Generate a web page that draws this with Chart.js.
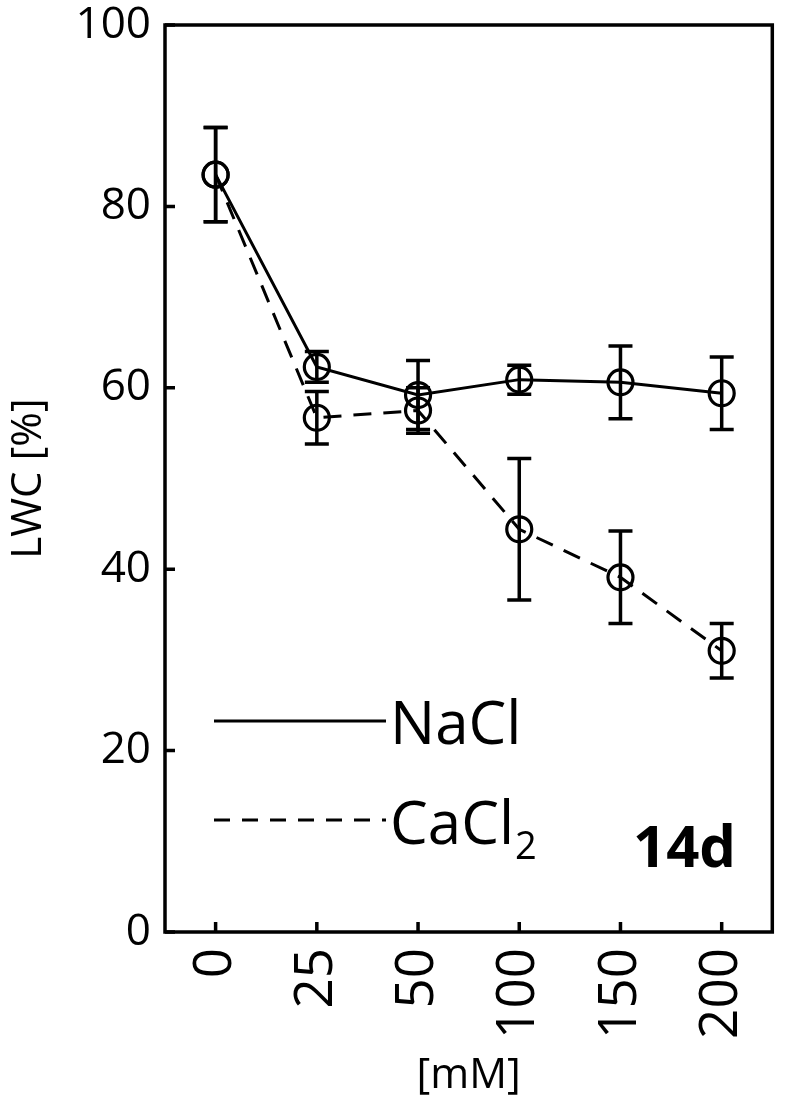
<!DOCTYPE html>
<html>
<head>
<meta charset="utf-8">
<script src="https://cdn.jsdelivr.net/npm/chart.js@4"></script>
<style>
  html, body { margin: 0; padding: 0; background: #fff; }
  #wrap { width: 788px; height: 1105px; position: relative; }
</style>
</head>
<body>
<div id="wrap"><canvas id="lwcChart"></canvas></div>
<script>
const conc = ["0", "25", "50", "100", "150", "200"];
const naclMean = [83.5, 62.3, 59.2, 60.9, 60.6, 59.4];
const naclErr = [5.2, 1.7, 3.8, 1.6, 4.0, 4.0];
const cacl2Mean = [83.5, 56.7, 57.5, 44.4, 39.1, 31.0];
const cacl2Err = [5.2, 2.9, 2.5, 7.8, 5.1, 3.0];
const yTicks = [0, 20, 40, 60, 80, 100];

const ink = "#000";
const font = "'Open Sans', 'Noto Sans', sans-serif";

// error bars, drawn from the data through the scales
const errorBars = {
  id: "errorBars",
  afterDatasetsDraw(chart) {
    const { ctx, scales: { x, y } } = chart;
    const sets = [[naclMean, naclErr], [cacl2Mean, cacl2Err]];
    ctx.save();
    ctx.strokeStyle = ink;
    ctx.lineWidth = 3.5;
    sets.forEach(([mean, err]) => {
      mean.forEach((m, i) => {
        const px = x.getPixelForValue(i);
        const top = y.getPixelForValue(m + err[i]);
        const bot = y.getPixelForValue(m - err[i]);
        ctx.beginPath();
        ctx.moveTo(px, top); ctx.lineTo(px, bot);
        ctx.moveTo(px - 12, top); ctx.lineTo(px + 12, top);
        ctx.moveTo(px - 12, bot); ctx.lineTo(px + 12, bot);
        ctx.stroke();
      });
    });
    ctx.restore();
  },
};

// box frame + inward tick marks
const frame = {
  id: "frame",
  afterDraw(chart) {
    const { ctx, chartArea: a, scales: { x, y } } = chart;
    ctx.save();
    ctx.strokeStyle = ink;
    ctx.lineWidth = 3.5;
    ctx.strokeRect(a.left, a.top, a.right - a.left, a.bottom - a.top);
    ctx.beginPath();
    yTicks.forEach(v => {
      const py = y.getPixelForValue(v);
      ctx.moveTo(a.left, py); ctx.lineTo(a.left + 10, py);
    });
    conc.forEach((c, i) => {
      const px = x.getPixelForValue(i);
      ctx.moveTo(px, a.bottom); ctx.lineTo(px, a.bottom - 10);
    });
    ctx.stroke();
    ctx.restore();
  },
};

// legend text and panel label
const notes = {
  id: "notes",
  afterDraw(chart) {
    const { ctx } = chart;
    ctx.save();
    ctx.strokeStyle = ink;
    ctx.fillStyle = ink;
    ctx.lineWidth = 3;
    ctx.beginPath();
    ctx.moveTo(214, 721); ctx.lineTo(386, 721);
    ctx.stroke();
    ctx.setLineDash([16, 12]);
    ctx.beginPath();
    ctx.moveTo(214, 820); ctx.lineTo(386, 820);
    ctx.stroke();
    ctx.setLineDash([]);
    ctx.textBaseline = "alphabetic";
    ctx.textAlign = "left";
    ctx.font = "60px " + font;
    ctx.fillText("NaCl", 390, 744);
    ctx.fillText("CaCl", 390, 844);
    const w = ctx.measureText("CaCl").width;
    ctx.font = "38px " + font;
    ctx.fillText("2", 390 + w + 1, 859);
    ctx.font = "bold 58px " + font;
    ctx.textAlign = "right";
    ctx.fillText("14d", 736, 867);
    ctx.restore();
  },
};

new Chart(document.getElementById("lwcChart"), {
  type: "line",
  data: {
    labels: conc,
    datasets: [
      {
        label: "NaCl",
        data: naclMean,
        borderColor: ink,
        borderWidth: 3,
        pointRadius: 12.5,
        pointBorderWidth: 3.2,
        pointBorderColor: ink,
        pointBackgroundColor: "rgba(0,0,0,0)",
        tension: 0,
      },
      {
        label: "CaCl2",
        data: cacl2Mean,
        borderColor: ink,
        borderWidth: 3,
        borderDash: [18, 12],
        pointRadius: 12.5,
        pointBorderWidth: 3.2,
        pointBorderColor: ink,
        pointBackgroundColor: "rgba(0,0,0,0)",
        tension: 0,
      },
    ],
  },
  options: {
    responsive: true,
    maintainAspectRatio: false,
    animation: false,
    layout: { padding: { top: 25, right: 5, left: 0, bottom: 0 } },
    plugins: { legend: { display: false }, tooltip: { enabled: false } },
    scales: {
      x: {
        type: "category",
        offset: true,
        grid: { display: false, drawTicks: false },
        border: { display: false },
        ticks: {
          color: ink,
          font: { family: font, size: 53 },
          maxRotation: 90,
          minRotation: 90,
          padding: 16,
        },
        title: {
          display: true,
          text: "[mM]",
          color: ink,
          font: { family: font, size: 42 },
          padding: { top: 4, bottom: 4 },
        },
        afterFit: (s) => {
          s.height = 173;
          s.paddingLeft = 0;
          s.paddingRight = 0;
        },
      },
      y: {
        min: 0,
        max: 100,
        grid: { display: false, drawTicks: false },
        border: { display: false },
        afterBuildTicks: (s) => { s.ticks = yTicks.map(v => ({ value: v })); },
        ticks: {
          color: ink,
          font: { family: font, size: 44 },
          padding: 14,
        },
        title: {
          display: true,
          text: "LWC [%]",
          color: ink,
          font: { family: font, size: 42 },
          padding: { top: 4, bottom: 4 },
        },
        afterFit: (s) => {
          s.width = 165;
          s.paddingTop = 0;
          s.paddingBottom = 0;
        },
      },
    },
  },
  plugins: [errorBars, frame, notes],
});
</script>
</body>
</html>
